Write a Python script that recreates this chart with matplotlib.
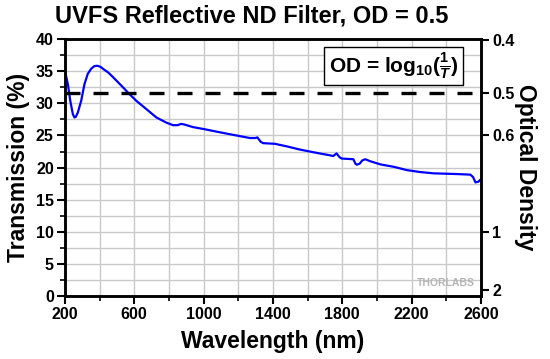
import numpy as np
import matplotlib
matplotlib.use("Agg")
import matplotlib.pyplot as plt
from matplotlib.ticker import MultipleLocator

plt.rcParams['font.family'] = ['Liberation Sans', 'DejaVu Sans']
plt.rcParams['font.weight'] = 'bold'
plt.rcParams['mathtext.fontset'] = 'custom'
plt.rcParams['mathtext.rm'] = 'Liberation Sans:bold'
plt.rcParams['mathtext.it'] = 'Liberation Sans:bold:italic'
plt.rcParams['mathtext.bf'] = 'Liberation Sans:bold'

# transmission curve
wavelength = [200, 217, 231, 246, 255, 263, 275, 294, 313, 332, 352, 370, 387, 405, 419,
              450, 477, 535, 570, 612, 670, 728, 785, 824, 850, 870, 890, 939, 1000, 1074,
              1150, 1267, 1300, 1310, 1330, 1344, 1411, 1480, 1556, 1650, 1730, 1748, 1767,
              1785, 1797, 1864, 1876, 1884, 1900, 1915, 1932, 1960, 2019, 2100, 2173, 2250,
              2327, 2450, 2539, 2555, 2568, 2585, 2600]
transmission = [35.1, 33.0, 30.4, 28.3, 27.8, 27.9, 28.6, 30.4, 33.0, 34.6, 35.4, 35.8, 35.85,
                35.7, 35.4, 34.8, 34.1, 32.5, 31.5, 30.4, 29.1, 27.8, 27.0, 26.6, 26.6, 26.8,
                26.7, 26.3, 26.0, 25.6, 25.2, 24.6, 24.6, 24.7, 24.0, 23.8, 23.7, 23.3, 22.8,
                22.3, 21.9, 21.8, 22.2, 21.6, 21.4, 21.3, 20.6, 20.45, 20.6, 21.1, 21.3, 21.0,
                20.5, 20.1, 19.6, 19.3, 19.1, 19.0, 18.9, 18.5, 17.7, 17.8, 18.2]

x_ticks = [200, 600, 1000, 1400, 1800, 2200, 2600]
od_ticks = [0.4, 0.5, 0.6, 1, 2]
od_labels = ['0.4', '0.5', '0.6', '1', '2']
nominal_od = 0.5

fig = plt.figure(figsize=(5.5, 3.59), dpi=100)
ax = fig.add_axes([0.118, 0.1755, 0.7565, 0.7155])

ax.grid(True, which='both', color='#c8c8c8', lw=1.0)
ax.set_axisbelow(True)
ax.plot(wavelength, transmission, color='#0000ff', lw=1.6)
ax.axhline(100 * 10 ** (-nominal_od), color='black', lw=2.4, dashes=(4.5, 3.9))

ax.set_xlim(200, 2600)
ax.set_ylim(0, 40)
ax.set_xticks(x_ticks)
ax.xaxis.set_minor_locator(MultipleLocator(200))
ax.yaxis.set_major_locator(MultipleLocator(5))
ax.yaxis.set_minor_locator(MultipleLocator(2.5))
ax.tick_params(which='major', length=6, width=1.5, labelsize=11.5, pad=2)
ax.tick_params(which='minor', length=3.5, width=1.2)
for s in ax.spines.values():
    s.set_linewidth(1.8)

ax.set_xlabel('Wavelength (nm)', fontsize=16.5, fontweight='bold', labelpad=6)
ax.set_ylabel('Transmission (%)', fontsize=16.5, fontweight='bold', labelpad=4)

# right axis: optical density
ax2 = ax.twinx()
ax2.set_ylim(0, 40)
ax2.set_yticks([100 * 10 ** (-v) for v in od_ticks])
ax2.set_yticklabels(od_labels)
ax2.tick_params(length=6, width=1.5, labelsize=11.5, pad=2)
ax2.set_ylabel('Optical Density', fontsize=16.5, fontweight='bold', rotation=270, labelpad=16)
for s in ax2.spines.values():
    s.set_linewidth(1.8)

ax.text(0.79, 0.955, r'OD = log$_{10}$($\frac{1}{T}$)', transform=ax.transAxes,
        ha='center', va='top', fontsize=15, fontweight='bold',
        bbox=dict(boxstyle='square,pad=0.2', fc='white', ec='black', lw=1.0))

ax.text(0.985, 0.05, 'THORLABS', transform=ax.transAxes, ha='right', va='center',
        fontsize=7.5, fontweight='bold', color='#b4b4b4')

fig.text(0.458, 0.955, 'UVFS Reflective ND Filter, OD = 0.5', ha='center', va='center',
         fontsize=17, fontweight='bold')

fig.savefig('out.png', dpi=100)
